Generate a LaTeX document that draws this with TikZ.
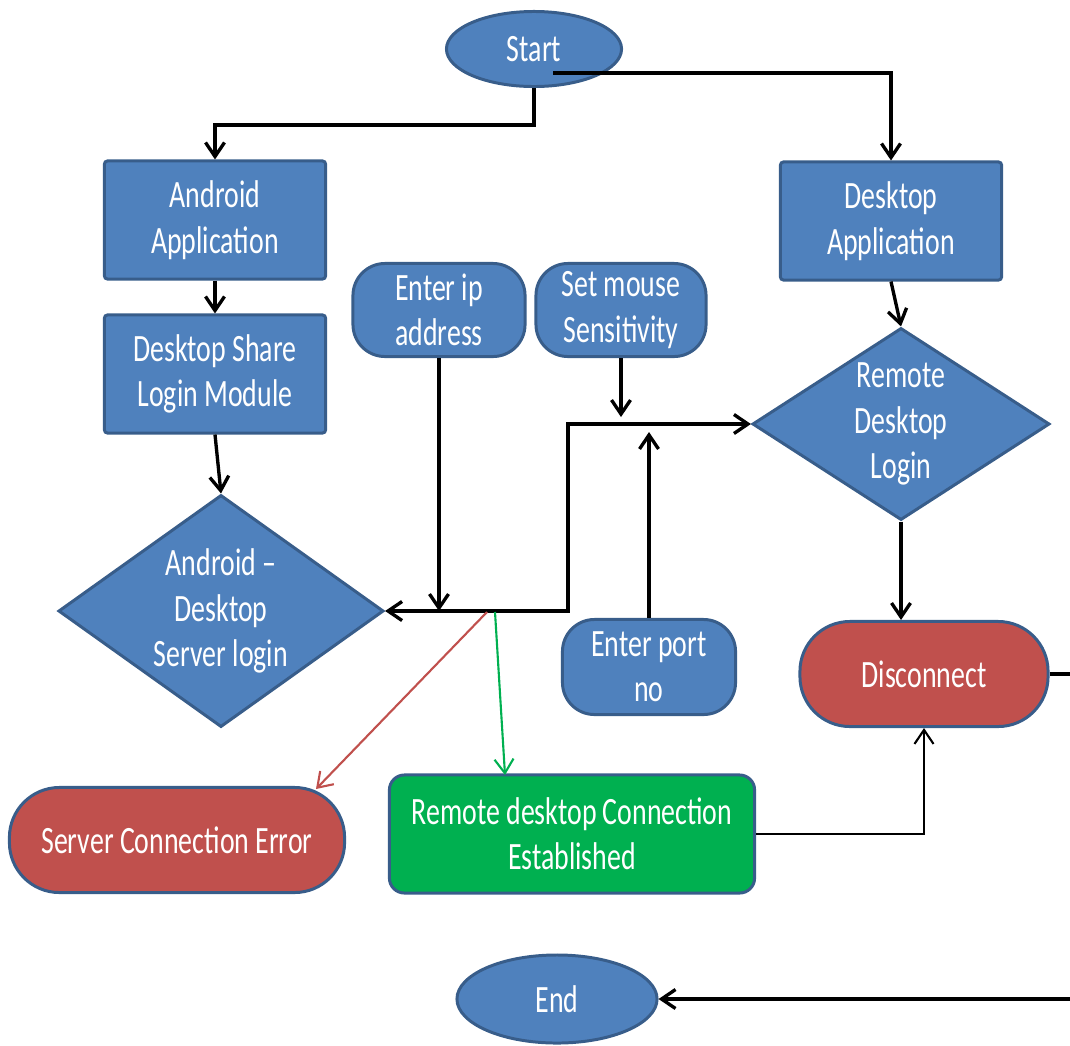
\documentclass[tikz,border=0pt]{standalone}
\usepackage{fontspec}
\setmainfont{Carlito}[FakeStretch=0.72]
\usepackage{xcolor}
\usetikzlibrary{shapes.geometric,arrows.meta}

\definecolor{boxblue}{HTML}{4F81BD}
\definecolor{edgeblue}{HTML}{385D8A}
\definecolor{errred}{HTML}{C0504D}
\definecolor{okgreen}{HTML}{00B050}

\tikzset{
  blk/.style={draw=edgeblue, line width=0.85pt, fill=boxblue, text=white, align=center, inner sep=0pt,
    font=\fontsize{11pt}{12.9pt}\selectfont},
  procbox/.style={blk, rectangle, rounded corners=0.03cm, minimum width=2.21cm, minimum height=1.18cm},
  inbox/.style={blk, rectangle, rounded corners=0.32cm, minimum width=1.72cm, minimum height=0.93cm},
  termbox/.style={blk, ellipse},
  choice/.style={blk, diamond},
  lbl/.style={text=white, align=center, inner sep=0pt, font=\fontsize{11pt}{12.9pt}\selectfont},
  flow/.style={draw, line width=0.95pt, -{Straight Barb[length=1.4mm,width=1.9mm]}},
  thinflow/.style={flow, line width=0.6pt}
}

\begin{document}
\begin{tikzpicture}[x=0.01cm, y=-0.01cm]
  \useasboundingbox (0,0) rectangle (1070,1045);
  \clip (0,0) rectangle (1070,1045);

  \node[termbox, minimum width=1.75cm, minimum height=0.75cm] (start) at (534,49) {Start};
  \node[procbox] (andapp) at (215,220) {Android\\Application};
  \node[procbox] (share) at (215,374) {Desktop Share\\Login Module};
  \node[procbox] (deskapp) at (891,221) {Desktop\\Application};
  \node[inbox] (ipin) at (439,310) {Enter ip\\address};
  \node[inbox, minimum width=1.70cm] (mouse) at (621,310) {Set mouse\\Sensitivity};
  \node[choice, minimum width=2.97cm, minimum height=1.92cm] (remote) at (901,424) {};
  \node[lbl] (remotetxt) at (remote) {Remote\\Desktop\\Login};
  \node[choice, minimum width=3.25cm, minimum height=2.32cm] (servlogin) at (221,611) {};
  \node[lbl] (servlogintxt) at (servlogin) {Android –\\Desktop\\Server login};
  \node[inbox, minimum width=1.73cm, minimum height=0.95cm] (port) at (649,667) {Enter port\\no};
  \node[blk, fill=errred, rounded corners=0.5cm, minimum width=2.48cm, minimum height=1.05cm] (disc) at (924,674) {Disconnect};
  \node[blk, fill=errred, rounded corners=0.5cm, minimum width=3.35cm, minimum height=1.05cm] (err) at (177,840) {Server Connection Error};
  \node[blk, fill=okgreen, rounded corners=0.15cm, minimum width=3.65cm, minimum height=1.18cm] (est) at (572,834) {Remote desktop Connection\\Established};
  \node[termbox, minimum width=2.0cm, minimum height=0.88cm] (end) at (557,999) {End};

  \coordinate (split) at (534,125);
  \coordinate (startout) at (553,73);
  \coordinate (bend) at (568,424);
  \coordinate (mousein) at (621,417);
  \coordinate (portin) at (649,432);
  \coordinate (redfrom) at (487,612);
  \coordinate (errin) at (316,789);
  \coordinate (greenfrom) at (495,612);
  \coordinate (okin) at (505,775);
  \coordinate (rightrail) at (1085,674);

  \draw[flow] (start.south) -- (split) -| (andapp.north);
  \draw[flow] (startout) -| (deskapp.north);
  \draw[flow] (andapp) -- (share);
  \draw[flow] (share.south) -- (servlogin.north);
  \draw[flow] (deskapp.south) -- (remote.north);
  \draw[flow, {Straight Barb[length=1.4mm,width=1.9mm]}-{Straight Barb[length=1.4mm,width=1.9mm]}]
    (servlogin.east) -| (bend) -- (remote.west);
  \draw[flow] (ipin.south) -- (ipin.south |- servlogin.east);
  \draw[flow] (mouse.south) -- (mousein);
  \draw[flow] (port.north) -- (portin);
  \draw[thinflow, errred] (redfrom) -- (errin);
  \draw[thinflow, okgreen] (greenfrom) -- (okin);
  \draw[flow] (remote.south) -- (disc.north -| remote.south);
  \draw[thinflow] (est.east) -| (disc.south);
  \draw[flow] (disc.east) -- (rightrail) |- (end.east);
\end{tikzpicture}
\end{document}
